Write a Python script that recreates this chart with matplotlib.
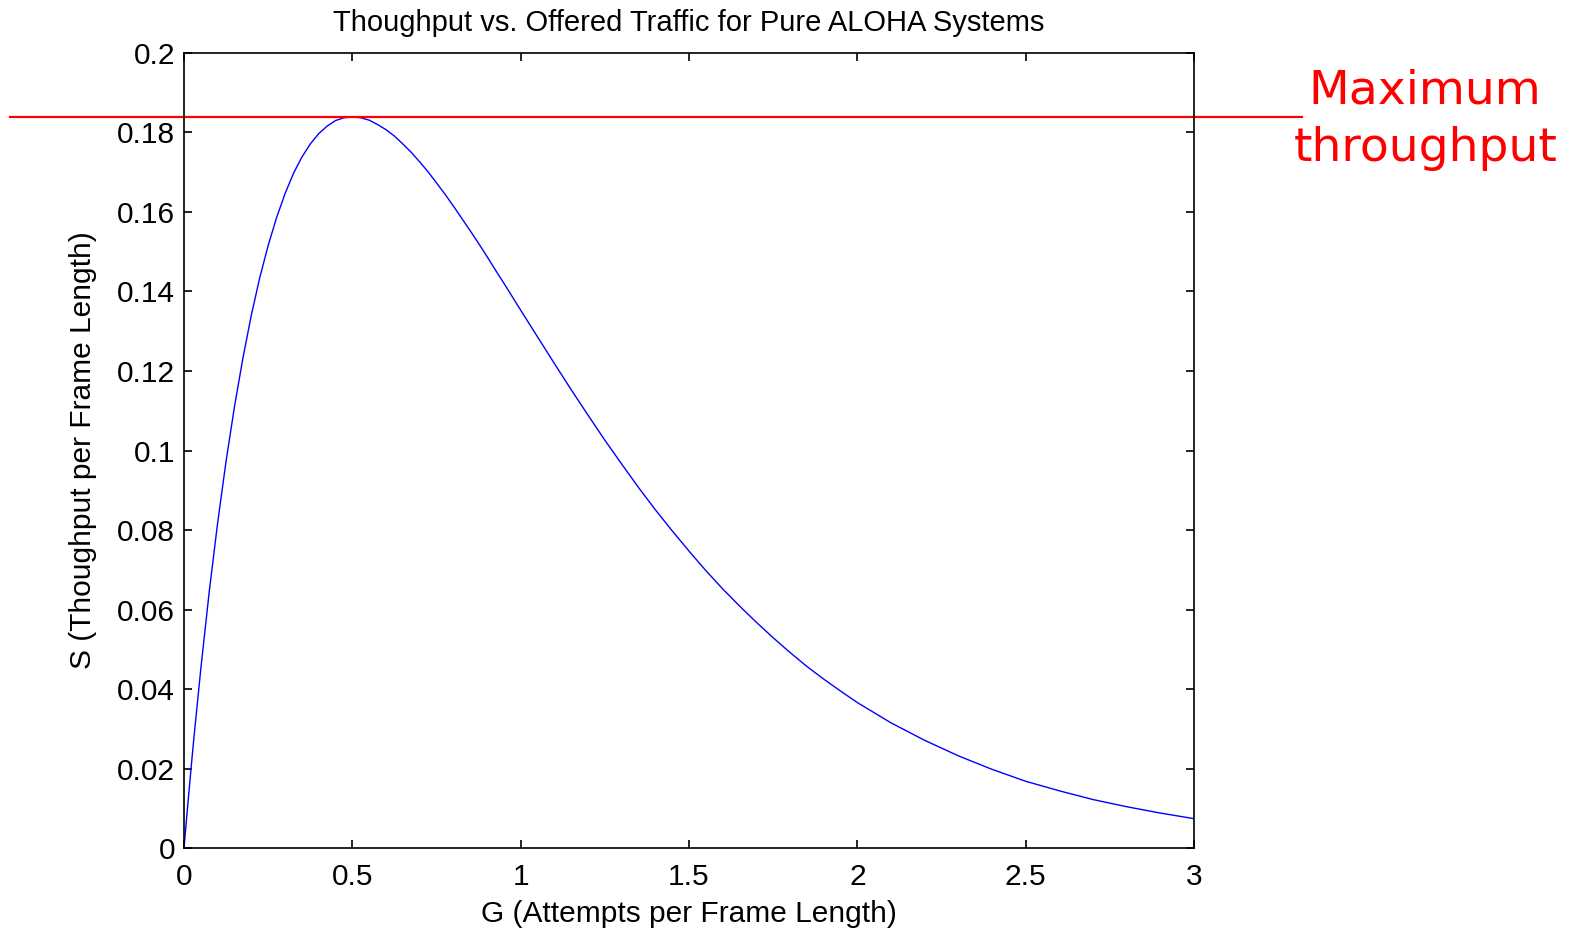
import numpy as np
import matplotlib.pyplot as plt

# offered traffic G and throughput S
G = [0, 0.01, 0.02, 0.025, 0.03, 0.05, 0.075, 0.1, 0.125, 0.15, 0.175, 0.2,
     0.225, 0.25, 0.275, 0.3, 0.325, 0.35, 0.375, 0.4, 0.425, 0.45, 0.475,
     0.5, 0.525, 0.55, 0.575, 0.6, 0.625, 0.65, 0.675, 0.7, 0.725, 0.75,
     0.775, 0.8, 0.825, 0.85, 0.875, 0.9, 0.925, 0.95, 0.975, 1.0, 1.05,
     1.1, 1.15, 1.2, 1.25, 1.3, 1.35, 1.4, 1.45, 1.5, 1.55, 1.6, 1.65, 1.7,
     1.75, 1.8, 1.85, 1.9, 1.95, 2.0, 2.1, 2.2, 2.3, 2.4, 2.5, 2.6, 2.7,
     2.8, 2.9, 3.0]
S = [0, 0.0098, 0.0192, 0.0238, 0.0283, 0.0452, 0.0646, 0.0819, 0.0974,
     0.1111, 0.1233, 0.1341, 0.1435, 0.1516, 0.1586, 0.1646, 0.1697, 0.1738,
     0.1771, 0.1797, 0.1816, 0.1830, 0.1837, 0.1839, 0.1837, 0.1831, 0.1820,
     0.1807, 0.1791, 0.1771, 0.1750, 0.1726, 0.1701, 0.1673, 0.1645, 0.1615,
     0.1584, 0.1553, 0.1521, 0.1488, 0.1454, 0.1421, 0.1387, 0.1353, 0.1286,
     0.1219, 0.1153, 0.1089, 0.1026, 0.0966, 0.0907, 0.0851, 0.0798, 0.0747,
     0.0698, 0.0652, 0.0609, 0.0568, 0.0529, 0.0492, 0.0457, 0.0425, 0.0395,
     0.0366, 0.0315, 0.0271, 0.0232, 0.0198, 0.0168, 0.0144, 0.0122, 0.0104,
     0.0088, 0.0074]
s_max = 0.184

xticks = [0, 0.5, 1, 1.5, 2, 2.5, 3]
yticks = [0, 0.02, 0.04, 0.06, 0.08, 0.1, 0.12, 0.14, 0.16, 0.18, 0.2]
yticklabels = ["0", "0.02", "0.04", "0.06", "0.08", "0.1", "0.12", "0.14",
               "0.16", "0.18", "0.2"]

plt.rcParams['font.family'] = ['Liberation Sans', 'DejaVu Sans']

fig = plt.figure(figsize=(15.81, 9.31), dpi=100)
ax = fig.add_axes([0.1164, 0.0891, 0.6388, 0.854])

ax.plot(G, S, color='#0000ff', linewidth=1.0)
ax.axhline(s_max, xmin=-0.172, xmax=1.107, color='red', linewidth=1.6,
           clip_on=False)

ax.set_xlim(0, 3)
ax.set_ylim(0, 0.2)
ax.set_xticks(xticks)
ax.set_xticklabels([f"{t:g}" for t in xticks])
ax.set_yticks(yticks)
ax.set_yticklabels(yticklabels)
ax.tick_params(direction='in', length=6, width=1.2, labelsize=21.5,
               top=True, right=True)
ax.tick_params(axis='x', pad=11)
ax.tick_params(axis='y', pad=6.5)
for sp in ax.spines.values():
    sp.set_linewidth(1.2)

ax.set_title("Thoughput vs. Offered Traffic for Pure ALOHA Systems",
             fontsize=21, pad=16)
ax.set_xlabel("G (Attempts per Frame Length)", fontsize=21.5, labelpad=6)
ax.set_ylabel("S (Thoughput per Frame Length)", fontsize=21.5, labelpad=14)

ax.text(1.229, 0.916, "Maximum\nthroughput", transform=ax.transAxes,
        ha='center', va='center', color='red', fontsize=34,
        family='DejaVu Sans', linespacing=1.38)

fig.savefig("out.png", dpi=100)
